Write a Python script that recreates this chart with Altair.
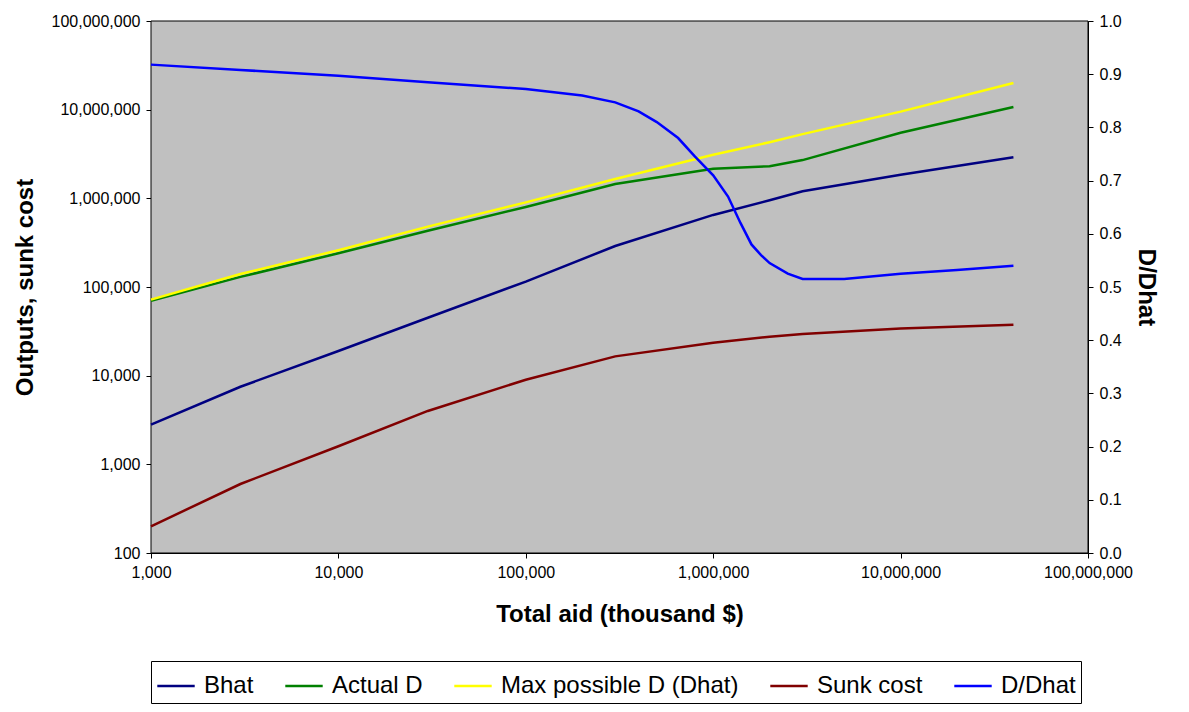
import altair as alt
import pandas as pd

aid = [1e3, 3e3, 1e4, 3e4, 1e5, 3e5, 1e6, 2e6, 3e6, 1e7, 4e7]
bhat = [2800, 7500, 19000, 45000, 115000, 290000, 650000, 950000, 1200000, 1850000, 2900000]
actual = [70000, 130000, 240000, 430000, 800000, 1450000, 2150000, 2300000, 2700000, 5500000, 10700000]
dhat = [72000, 140000, 260000, 480000, 900000, 1650000, 3100000, 4300000, 5300000, 9500000, 20000000]
sunk = [200, 600, 1600, 4000, 9000, 16500, 23500, 27500, 29500, 34000, 37500]

ratio_x = [1e3, 3e3, 1e4, 3e4, 1e5, 2e5, 3e5, 4e5, 5e5, 6.5e5, 8e5, 1e6, 1.2e6, 1.4e6, 1.6e6, 1.8e6, 2e6, 2.5e6, 3e6, 5e6, 1e7, 2e7, 4e7]
ratio_y = [0.918, 0.908, 0.897, 0.885, 0.872, 0.86, 0.847, 0.83, 0.81, 0.78, 0.745, 0.71, 0.67, 0.62, 0.58, 0.56, 0.545, 0.525, 0.515, 0.515, 0.525, 0.532, 0.54]

names = ["Bhat", "Actual D", "Max possible D (Dhat)", "Sunk cost", "D/Dhat"]
colors = ["#000080", "#008000", "#ffff00", "#800000", "#0000ff"]

rows = []
for n, vals in zip(names[:4], [bhat, actual, dhat, sunk]):
    for x, v in zip(aid, vals):
        rows.append({"aid": x, "v": v, "series": n})
left = pd.DataFrame(rows)
right = pd.DataFrame({"aid": ratio_x, "v": ratio_y, "series": "D/Dhat"})

F = "Liberation Sans"
W, H = 937, 532
color = alt.Color("series:N", scale=alt.Scale(domain=names, range=colors),
                  legend=alt.Legend(title=None, orient="bottom", direction="horizontal",
                                    symbolType="stroke", symbolStrokeWidth=2.5, symbolSize=1400,
                                    labelFontSize=24, labelFont=F, labelColor="black", labelLimit=0,
                                    strokeColor="black", padding=5, offset=35, columnPadding=26,
                                    labelOffset=8))
xenc = alt.X("aid:Q", scale=alt.Scale(type="log", domain=[1e3, 1e8]),
             axis=alt.Axis(title="Total aid (thousand $)", format=",.0f", values=[1e3,1e4,1e5,1e6,1e7,1e8],
                           grid=False, titleFontSize=24, titleFont=F, labelFont=F, labelFontSize=16,
                           labelFlush=False,
                           titlePadding=22, labelPadding=6, domainColor="black", tickColor="black", labelColor="black"))

bg = alt.Chart(pd.DataFrame({"a": [0]})).mark_rect(color="#c0c0c0", stroke="black").encode(
    x=alt.value(0), x2=alt.value(W), y=alt.value(0), y2=alt.value(H))

l = alt.Chart(left).mark_line(strokeWidth=2.5).encode(
    x=xenc,
    y=alt.Y("v:Q", scale=alt.Scale(type="log", domain=[100, 1e8]),
            axis=alt.Axis(title="Outputs, sunk cost", format=",.0f", values=[1e2,1e3,1e4,1e5,1e6,1e7,1e8],
                          gridColor="black", gridOpacity=1, titleFontSize=24, titleFont=F, labelFont=F,
                          labelFontSize=16, titlePadding=14, labelPadding=6, domainColor="black", tickColor="black", labelColor="black")),
    color=color, order=alt.Order("aid:Q"))
r = alt.Chart(right).mark_line(strokeWidth=2.5).encode(
    x=xenc,
    y=alt.Y("v:Q", scale=alt.Scale(domain=[0, 1]),
            axis=alt.Axis(title="D/Dhat", orient="right", format=".1f", tickCount=10, grid=False,
                          titleFontSize=24, titleFont=F, labelFont=F, labelFontSize=16, titlePadding=12,
                          labelPadding=6, domainColor="black", tickColor="black", labelColor="black")),
    color=color, order=alt.Order("aid:Q"))

chart = alt.layer(bg, l, r).resolve_scale(y="independent").properties(
    width=W, height=H
).configure_view(stroke="black").configure(background="white")
chart.save("out.html", embed_options={"renderer": "svg", "actions": False})
